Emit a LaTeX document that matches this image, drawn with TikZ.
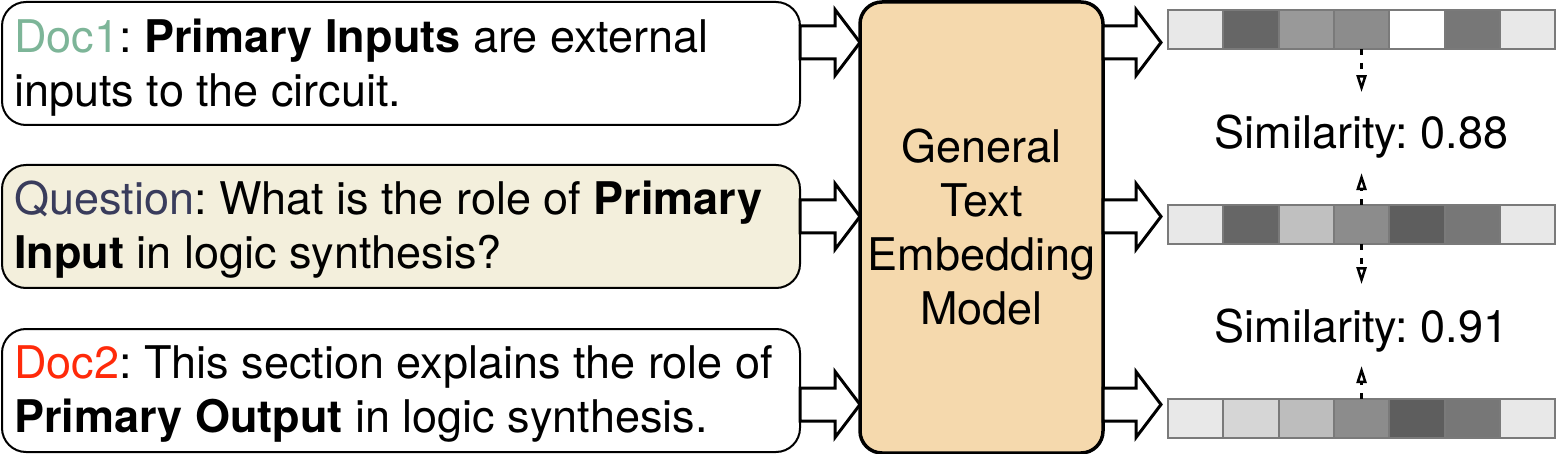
\documentclass[tikz,border=0pt]{standalone}
\usepackage{fontspec}
\setmainfont{TeX Gyre Heros}
\usetikzlibrary{arrows.meta,positioning}
\frenchspacing

\definecolor{doconecol}{HTML}{7DB598}
\definecolor{questioncol}{HTML}{393C5C}
\definecolor{doctwocol}{HTML}{FF2A0A}
\definecolor{questionfill}{HTML}{F3EFDC}
\definecolor{modelfill}{HTML}{F5D9AD}
\definecolor{cellline}{HTML}{7A7A7A}
\definecolor{grayA}{HTML}{E8E8E8}
\definecolor{grayB}{HTML}{666666}
\definecolor{grayC}{HTML}{999999}
\definecolor{grayD}{HTML}{8C8C8C}
\definecolor{grayE}{HTML}{FFFFFF}
\definecolor{grayF}{HTML}{777777}
\definecolor{grayG}{HTML}{C0C0C0}
\definecolor{grayH}{HTML}{5E5E5E}
\definecolor{grayI}{HTML}{D6D6D6}
\definecolor{grayJ}{HTML}{BDBDBD}

% flecha gruesa: inicio, largo del cuerpo
\newcommand{\fatarrow}[2]{%
  \draw[fatarrow] #1 -- ++(0,-16.5) -- ++(#2,0) -- ++(0,-16.5) -- ++(25,33)
    -- ++(-25,33) -- ++(0,-16.5) -- ++(-#2,0) -- cycle;}

\begin{document}
\begin{tikzpicture}[x=1pt,y=-1pt,font=\fontsize{45}{54}\selectfont]
\tikzstyle{docbox}=[draw=black,line width=2pt,rounded corners=24pt,minimum width=798pt,minimum height=123pt,inner sep=0pt,outer sep=0pt]
\tikzstyle{doctext}=[anchor=north west,align=left,inner sep=0pt]
\tikzstyle{model}=[draw=black,line width=3.5pt,rounded corners=22pt,fill=modelfill,minimum width=243pt,minimum height=451pt,align=center,outer sep=0pt]
\tikzstyle{cell}=[draw=cellline,line width=2pt,minimum width=55.3pt,minimum height=39pt,inner sep=0pt,outer sep=0pt]
\tikzstyle{fatarrow}=[draw=black,fill=white,line width=3pt,line join=miter]
\tikzstyle{simarrow}=[line width=2.5pt,dash pattern=on 6pt off 8pt,-{Triangle[open,length=17pt,width=10pt]}]
\tikzstyle{simtext}=[inner sep=0pt]

\useasboundingbox (0,0) rectangle (1558,454);

% Documentos y pregunta
\node[docbox] (doc1) at (401,63.5) {};
\node[docbox,fill=questionfill] (question) at (401,226.5) {};
\node[docbox] (doc2) at (401,390.5) {};

\node[doctext] (doc1text) at ([shift={(12,13)}]doc1.north west)
  {\strut\textcolor{doconecol}{Doc1}: \textbf{Primary Inputs} are external\\inputs to the circuit.};
\node[doctext] (questiontext) at ([shift={(12,12)}]question.north west)
  {\strut\textcolor{questioncol}{Question}: What is the role of \textbf{Primary}\\\textbf{Input} in logic synthesis?};
\node[doctext] (doc2text) at ([shift={(12,11)}]doc2.north west)
  {\strut\textcolor{doctwocol}{Doc2}: This section explains the role of\\\textbf{Primary Output} in logic synthesis.};

% Modelo
\node[model] (model) at (981.5,227.5) {General\\Text\\Embedding\\Model};

% Flechas de entrada y salida
\fatarrow{(doc1.east |- 0,42.5)}{35}
\fatarrow{(question.east |- 0,216.5)}{35}
\fatarrow{(doc2.east |- 0,404.5)}{35}
\fatarrow{(model.east |- 0,42.5)}{33}
\fatarrow{(model.east |- 0,216.5)}{33}
\fatarrow{(model.east |- 0,404.5)}{33}

% Embedding de Doc1
\node[cell,fill=grayA,anchor=west] (t1) at (1168,29.5) {};
\node[cell,fill=grayB,right=0pt of t1] (t2) {};
\node[cell,fill=grayC,right=0pt of t2] (t3) {};
\node[cell,fill=grayD,right=0pt of t3] (t4) {};
\node[cell,fill=grayE,right=0pt of t4] (t5) {};
\node[cell,fill=grayF,right=0pt of t5] (t6) {};
\node[cell,fill=grayA,right=0pt of t6] (t7) {};

% Embedding de la pregunta
\node[cell,fill=grayA,anchor=west] (m1) at (1168,224.5) {};
\node[cell,fill=grayB,right=0pt of m1] (m2) {};
\node[cell,fill=grayG,right=0pt of m2] (m3) {};
\node[cell,fill=grayD,right=0pt of m3] (m4) {};
\node[cell,fill=grayH,right=0pt of m4] (m5) {};
\node[cell,fill=grayF,right=0pt of m5] (m6) {};
\node[cell,fill=grayA,right=0pt of m6] (m7) {};

% Embedding de Doc2
\node[cell,fill=grayA,anchor=west] (b1) at (1168,418.5) {};
\node[cell,fill=grayI,right=0pt of b1] (b2) {};
\node[cell,fill=grayJ,right=0pt of b2] (b3) {};
\node[cell,fill=grayD,right=0pt of b3] (b4) {};
\node[cell,fill=grayH,right=0pt of b4] (b5) {};
\node[cell,fill=grayF,right=0pt of b5] (b6) {};
\node[cell,fill=grayA,right=0pt of b6] (b7) {};

% Similitudes
\node[simtext,anchor=base] (sim1) at (t4.center |- 0,149) {Similarity: 0.88};
\node[simtext,anchor=base] (sim2) at (b4.center |- 0,342) {Similarity: 0.91};

\draw[simarrow,shorten >=23pt] (t4.south) -- (sim1.north);
\draw[simarrow,shorten >=14pt] (m4.north) -- (sim1.south);
\draw[simarrow,shorten >=24pt] (m4.south) -- (sim2.north);
\draw[simarrow,shorten >=14pt] (b4.north) -- (sim2.south);
\end{tikzpicture}
\end{document}
